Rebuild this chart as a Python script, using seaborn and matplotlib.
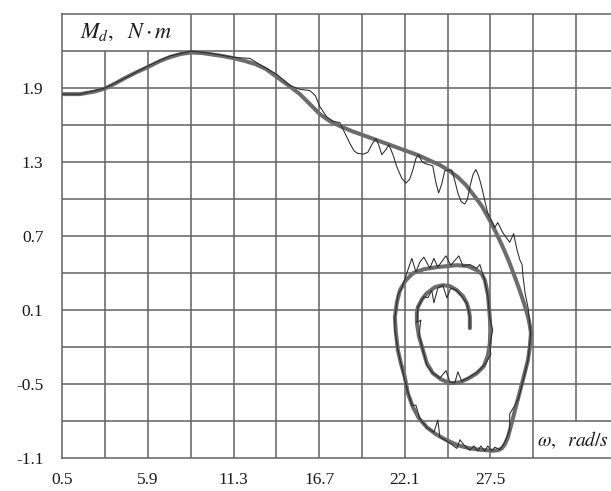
import numpy as np
import pandas as pd
import matplotlib
matplotlib.use("Agg")
import matplotlib.pyplot as plt
import seaborn as sns

# ---- data ----
model_w = [0.5, 1.62, 2.56, 3.19, 3.82, 4.45, 5.21, 5.90, 6.66, 7.29, 7.98, 8.61, 9.31, 9.94,
           10.63, 11.26, 12.02, 12.65, 13.34, 14.04, 14.73, 15.48, 16.11, 16.74, 17.37, 18.0,
           18.76, 19.45, 20.14, 20.84, 21.53, 22.23, 22.92, 23.62, 24.31, 24.94, 25.44, 25.95,
           26.45, 26.96, 27.52, 27.90, 28.28, 28.66, 29.04, 29.36, 29.61, 29.86, 29.98,
           30.05, 29.98, 29.86, 29.54, 29.16, 28.85, 28.60, 28.41, 28.22, 27.97, 27.65, 26.83,
           26.20, 25.45, 24.75, 24.06, 23.49, 22.99, 22.61, 22.29, 22.10, 21.85, 21.66, 21.54,
           21.47, 21.60, 21.79, 22.17, 22.61, 23.30, 24.12, 25.38, 26.08, 26.64, 26.96, 27.15,
           27.34, 27.46, 27.49, 27.46, 27.34, 27.08, 26.64, 26.14, 25.57, 24.94, 24.37, 23.87,
           23.49, 23.24, 22.99, 22.86, 22.86, 22.92, 23.18, 23.49, 24.00, 24.50, 24.94, 25.38,
           25.76, 26.01, 26.14, 26.20, 26.20]
model_m = [1.851, 1.851, 1.872, 1.896, 1.936, 1.981, 2.030, 2.070, 2.119, 2.151, 2.176, 2.188,
           2.184, 2.172, 2.159, 2.143, 2.119, 2.095, 2.054, 1.989, 1.924, 1.851, 1.770, 1.689,
           1.632, 1.592, 1.551, 1.519, 1.487, 1.454, 1.422, 1.389, 1.357, 1.316, 1.276, 1.227,
           1.178, 1.114, 1.032, 0.943, 0.814, 0.716, 0.611, 0.497, 0.368, 0.254, 0.157, 0.051,
           -0.022, -0.086, -0.200, -0.305, -0.468, -0.654, -0.808, -0.930, -0.986, -1.019,
           -1.035, -1.039, -1.031, -1.019, -0.995, -0.954, -0.905, -0.849, -0.776, -0.686,
           -0.573, -0.443, -0.330, -0.224, -0.086, 0.043, 0.165, 0.262, 0.343, 0.400, 0.432,
           0.449, 0.465, 0.457, 0.424, 0.392, 0.343, 0.222, 0.043, -0.062, -0.168, -0.265,
           -0.354, -0.411, -0.451, -0.484, -0.492, -0.459, -0.411, -0.330, -0.224, -0.111,
           -0.005, 0.076, 0.124, 0.189, 0.238, 0.287, 0.303, 0.295, 0.262, 0.214, 0.157,
           0.100, 0.043, -0.046]

exp_w = [0.5, 1.62, 3.19, 4.45, 5.90, 7.29, 8.61, 9.94, 11.26, 12.33, 13.09, 14.04, 14.86,
         15.48, 15.80, 16.10, 16.45, 16.74, 17.18, 17.60, 18.0, 18.30, 18.64, 18.90, 19.14,
         19.50, 19.77, 20.05, 20.27, 20.45, 20.65, 20.90, 21.10, 21.35, 21.60, 21.90, 22.17,
         22.40, 22.60, 22.80, 22.97, 23.15, 23.35, 23.86, 24.05, 24.23, 24.42, 24.62, 25.06,
         25.25, 25.44, 25.65, 25.88, 26.05, 26.20, 26.40, 26.58, 26.75, 26.94, 27.32, 27.77,
         27.96, 28.27, 28.71, 28.96, 29.17, 29.36, 29.49, 29.55, 29.68, 29.87, 30.04, 29.86,
         29.60, 29.28, 29.04, 28.71, 28.71, 28.40, 28.09, 27.77, 27.58, 27.33, 27.14, 26.89,
         26.70, 26.45, 26.20, 25.88, 25.57, 25.38, 24.75, 24.31, 24.18, 23.93, 23.49, 23.05,
         22.80, 22.55, 22.29, 22.04, 21.66, 21.47, 21.47, 21.66, 21.91, 22.54, 22.80, 23.05,
         23.30, 23.68, 23.93, 24.18, 24.69, 25.00, 25.50, 25.76, 26.20, 26.64, 26.83, 27.14,
         27.33, 27.46, 27.64, 27.46, 27.52, 27.20, 26.77, 26.20, 25.69, 25.44, 25.25, 24.94,
         24.69, 24.31, 23.87, 23.49, 23.24, 22.99, 23.11, 22.86, 22.92, 23.30, 23.55, 23.80,
         23.93, 24.18, 24.50, 24.75, 25.00, 25.38, 25.69, 26.00, 26.20, 26.20]
exp_m = [1.85, 1.85, 1.90, 1.98, 2.08, 2.16, 2.20, 2.18, 2.15, 2.14, 2.08, 2.01, 1.92, 1.89,
         1.885, 1.88, 1.84, 1.75, 1.665, 1.63, 1.62, 1.54, 1.45, 1.39, 1.37, 1.365, 1.38,
         1.45, 1.49, 1.44, 1.36, 1.40, 1.44, 1.36, 1.26, 1.17, 1.13, 1.16, 1.235, 1.33, 1.36,
         1.31, 1.29, 1.27, 1.14, 1.05, 1.12, 1.23, 1.235, 1.15, 1.05, 0.98, 0.96, 1.00, 1.10,
         1.20, 1.24, 1.19, 1.10, 0.89, 0.77, 0.81, 0.73, 0.65, 0.72, 0.59, 0.505, 0.47, 0.375,
         0.24, 0.12, -0.09, -0.31, -0.45, -0.61, -0.67, -0.74, -0.87, -0.97, -1.03, -1.01,
         -1.04, -1.00, -1.04, -1.00, -1.04, -1.00, -1.035, -1.00, -0.95, -1.02, -0.96, -0.93,
         -0.79, -0.89, -0.85, -0.78, -0.67, -0.67, -0.56, -0.44, -0.22, -0.06, 0.04, 0.22,
         0.28, 0.52, 0.41, 0.49, 0.53, 0.44, 0.52, 0.45, 0.54, 0.465, 0.54, 0.46, 0.47, 0.44,
         0.47, 0.34, 0.22, 0.04, -0.06, -0.18, -0.26, -0.33, -0.39, -0.44, -0.475, -0.40,
         -0.49, -0.48, -0.39, -0.45, -0.41, -0.35, -0.22, -0.10, 0.02, 0.00, 0.125, 0.21,
         0.20, 0.26, 0.16, 0.28, 0.30, 0.20, 0.28, 0.26, 0.21, 0.157, 0.043, -0.046]

x_ticks = [0.5, 5.9, 11.3, 16.7, 22.1, 27.5]
x_ticklabels = ["0.5", "5.9", "11.3", "16.7", "22.1", "27.5"]
y_ticks = [-1.1, -0.5, 0.1, 0.7, 1.3, 1.9]
y_ticklabels = ["-1.1", "-0.5", "0.1", "0.7", "1.3", "1.9"]

# ---- style ----
sns.set_theme(style="white")
plt.rcParams["font.family"] = ["Liberation Serif", "DejaVu Serif"]
plt.rcParams["mathtext.fontset"] = "stix"
plt.rcParams["axes.unicode_minus"] = False

GRID = "#626262"
XMIN, XMAX = 0.5, 35.1
YMIN, YMAX = -1.1, 2.5

fig = plt.figure(figsize=(6.11, 4.91), dpi=100)
ax = fig.add_axes([0.10196, 0.0666, 0.89804, 0.90489])
ax.set_xlim(XMIN, XMAX)
ax.set_ylim(YMIN, YMAX)

def yfrac(v):
    return (v - YMIN) / (YMAX - YMIN)

# grid
xg = np.round(np.arange(0.5, 33.0, 2.7), 2)
yg = np.round(np.arange(-1.1, 2.51, 0.3), 2)
for xv in xg[1:]:
    lo, hi = 0.0, 1.0
    if xv in (3.2, 5.9):
        hi = yfrac(2.2)
    if xv == 32.9:
        lo = yfrac(-0.8)
    ax.axvline(xv, ymin=lo, ymax=hi, color=GRID, lw=1.1, zorder=1)
for yv in yg[1:-1]:
    ax.axhline(yv, color=GRID, lw=1.1, zorder=1)

for s in ["left", "bottom", "top"]:
    ax.spines[s].set_color(GRID)
    ax.spines[s].set_linewidth(1.1)
ax.spines["right"].set_visible(False)

df_model = pd.DataFrame({"w": model_w, "m": model_m})
df_exp = pd.DataFrame({"w": exp_w, "m": exp_m})
sns.lineplot(data=df_model, x="w", y="m", sort=False, estimator=None, ax=ax,
             color="#6c6c6c", lw=2.9, zorder=3)
sns.lineplot(data=df_exp, x="w", y="m", sort=False, estimator=None, ax=ax,
             color="#2a2a2a", lw=0.75, zorder=4)

ax.set_xticks(x_ticks)
ax.set_xticklabels(x_ticklabels)
ax.set_yticks(y_ticks)
ax.set_yticklabels(y_ticklabels)
ax.tick_params(axis="both", direction="out", length=3.6, width=1.0, color=GRID,
               labelsize=12.5, labelcolor="#1a1a1a")
ax.tick_params(axis="y", pad=10)
ax.tick_params(axis="x", pad=6)
ax.set_xlabel("")
ax.set_ylabel("")

ax.text(1.62, 2.352, r"$M_d,\ \ N\cdot m$", fontsize=16, ha="left", va="center",
        color="#1a1a1a", zorder=5)
ax.text(30.42, -0.95, r"$\omega,\ \ rad/s$", fontsize=14, ha="left", va="center",
        color="#1a1a1a", zorder=5, clip_on=False)

fig.savefig("out.png", dpi=100, facecolor="white")
